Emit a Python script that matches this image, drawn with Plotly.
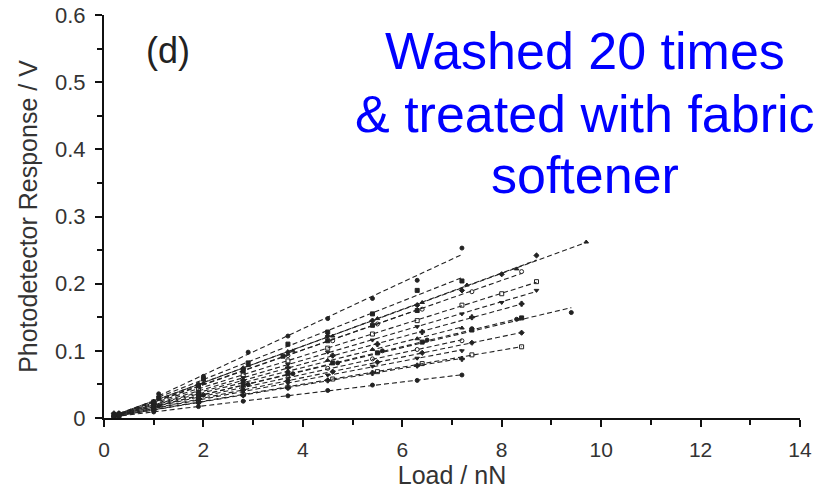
import numpy as np
import plotly.graph_objects as go

# ---- data ----
x_short = [1.1, 2.0, 2.9, 3.7, 4.5, 5.4, 6.3, 7.2]
x_72 = [0.2, 1.0, 1.9, 2.8, 3.7, 4.5, 5.4, 6.3, 7.2]
x_84 = [0.3, 1.0, 1.9, 2.8, 3.7, 4.6, 5.5, 6.4, 7.4, 8.4]
x_87 = [0.2, 1.0, 1.9, 2.8, 3.7, 4.5, 5.4, 6.3, 7.2, 8.0, 8.7]
x_94 = [0.3, 1.1, 2.0, 2.9, 3.8, 4.7, 5.6, 6.5, 7.4, 8.3, 9.4]
x_97 = [0.3, 1.0, 2.0, 2.9, 3.8, 4.6, 5.5, 6.4, 7.3, 8.3, 9.7]
x_63 = [0.3, 1.0, 1.9, 2.8, 3.6, 4.5, 5.4, 6.3]

s01_y = [0.036, 0.062, 0.098, 0.122, 0.148, 0.178, 0.205, 0.253]
s02_y = [0.030, 0.058, 0.082, 0.110, 0.128, 0.155, 0.190, 0.204]
s03_y = [0.008, 0.025, 0.052, 0.078, 0.100, 0.122, 0.148, 0.172, 0.198, 0.222, 0.262]
s04_y = [0.007, 0.024, 0.050, 0.074, 0.098, 0.122, 0.145, 0.168, 0.190, 0.214, 0.242]
s05_y = [0.006, 0.022, 0.048, 0.072, 0.093, 0.115, 0.140, 0.162, 0.188, 0.218]
s06_y = [0.005, 0.022, 0.044, 0.064, 0.085, 0.104, 0.125, 0.145, 0.168, 0.185, 0.203]
s07_y = [0.004, 0.020, 0.040, 0.060, 0.080, 0.098, 0.116, 0.136, 0.155, 0.172, 0.190]
s08_y = [0.005, 0.020, 0.038, 0.056, 0.075, 0.093, 0.110, 0.128, 0.150, 0.170]
s09_y = [0.004, 0.018, 0.034, 0.050, 0.066, 0.082, 0.100, 0.116, 0.133, 0.147, 0.157]
s10_y = [0.004, 0.017, 0.033, 0.049, 0.066, 0.082, 0.097, 0.113, 0.131, 0.149]
s11_y = [0.003, 0.018, 0.036, 0.054, 0.070, 0.086, 0.102, 0.118, 0.134]
s12_y = [0.003, 0.015, 0.028, 0.042, 0.056, 0.069, 0.083, 0.097, 0.112, 0.127]
s13_y = [0.003, 0.016, 0.031, 0.046, 0.060, 0.074, 0.088, 0.102, 0.115]
s14_y = [0.003, 0.013, 0.024, 0.035, 0.046, 0.058, 0.069, 0.081, 0.094, 0.106]
s15_y = [0.002, 0.014, 0.027, 0.040, 0.052, 0.064, 0.077, 0.089, 0.100]
s16_y = [0.002, 0.012, 0.023, 0.034, 0.045, 0.056, 0.067, 0.078, 0.088]
s17_y = [0.002, 0.009, 0.017, 0.025, 0.033, 0.041, 0.049, 0.056, 0.064]
s18_y = [0.006, 0.024, 0.048, 0.070, 0.092, 0.115, 0.138, 0.160]

series = [
    (x_short, s01_y), (x_short, s02_y), (x_97, s03_y), (x_87, s04_y),
    (x_84, s05_y), (x_87, s06_y), (x_87, s07_y), (x_84, s08_y),
    (x_94, s09_y), (x_84, s10_y), (x_72, s11_y), (x_84, s12_y),
    (x_72, s13_y), (x_84, s14_y), (x_72, s15_y), (x_72, s16_y),
    (x_72, s17_y), (x_63, s18_y),
]

x_ticks = [0, 2, 4, 6, 8, 10, 12, 14]
y_ticks = [0, 0.1, 0.2, 0.3, 0.4, 0.5, 0.6]
y_tick_text = ["0", "0.1", "0.2", "0.3", "0.4", "0.5", "0.6"]

symbols = ["circle", "square", "triangle-up", "diamond", "circle-open",
           "square-open", "triangle-down", "cross"]

fig = go.Figure()
for i, (xs, ys) in enumerate(series):
    xs = np.array(xs)
    ys = np.array(ys)
    k, b = np.polyfit(xs, ys, 1)
    xf = np.array([xs.min(), xs.max()])
    fig.add_trace(go.Scatter(
        x=xf, y=k * xf + b, mode="lines",
        line=dict(color="#222", width=1.1, dash="5px,3px"),
        showlegend=False, hoverinfo="skip"))
    fig.add_trace(go.Scatter(
        x=xs, y=ys, mode="markers",
        marker=dict(symbol=symbols[i % len(symbols)], size=4, color="#222",
                    line=dict(color="#222", width=1)),
        showlegend=False))

font_main = "Liberation Sans, Arial, sans-serif"

fig.add_annotation(x=1.29, y=0.547, xref="x", yref="y", text="(d)",
                   showarrow=False, font=dict(family=font_main, size=36, color="#222"))
blue_lines = ["Washed 20 times", "&amp; treated with fabric", "softener"]
blue_y = [0.546, 0.453, 0.362]
for t, yy in zip(blue_lines, blue_y):
    fig.add_annotation(x=9.68, y=yy, xref="x", yref="y", text=t, showarrow=False,
                       xanchor="center", yanchor="middle",
                       font=dict(family=font_main, size=52, color="#0000ff"))

fig.update_xaxes(
    range=[0, 14], tickvals=x_ticks, showline=True, linecolor="#111", linewidth=2,
    ticks="outside", ticklen=7, tickwidth=2, tickcolor="#111",
    minor=dict(dtick=1, ticks="outside", ticklen=5, tickwidth=1.5, tickcolor="#111"),
    showgrid=False, zeroline=False, ticklabelstandoff=5, automargin=False,
    tickfont=dict(family=font_main, size=21, color="#333"),
    title=dict(text="Load / nN", font=dict(family=font_main, size=25, color="#333"),
               standoff=4),
)
fig.update_yaxes(
    range=[0, 0.6], tickvals=y_ticks, ticktext=y_tick_text, showline=True,
    linecolor="#111", linewidth=2,
    ticks="outside", ticklen=7, tickwidth=2, tickcolor="#111",
    minor=dict(dtick=0.05, ticks="outside", ticklen=5, tickwidth=1.5, tickcolor="#111"),
    showgrid=False, zeroline=False, ticklabelstandoff=5, automargin=False,
    tickfont=dict(family=font_main, size=22, color="#333"),
    title=dict(text="Photodetector Response / V",
               font=dict(family=font_main, size=25, color="#333"), standoff=10),
)

fig.update_layout(
    width=827, height=493,
    margin=dict(l=104, r=27, t=15, b=75),
    paper_bgcolor="white", plot_bgcolor="white",
)

fig.write_html("out.html")
